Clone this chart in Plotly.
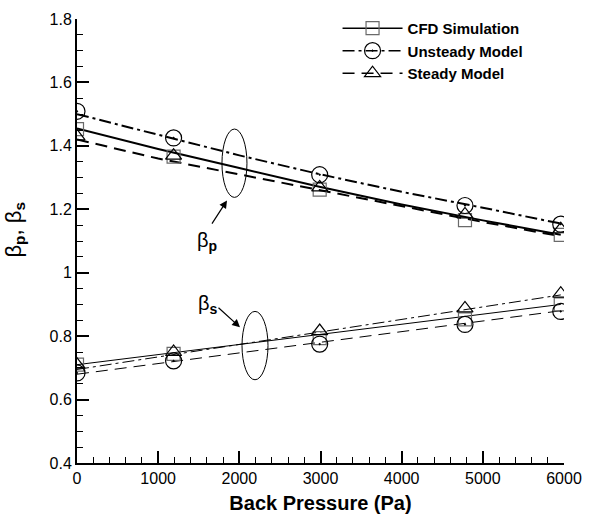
import plotly.graph_objects as go

# Marker data (Back pressure, Pa)
x_pts = [0, 1190, 2990, 4780, 5960]
# beta_p markers
bp_cfd = [1.453, 1.366, 1.262, 1.166, 1.119]
bp_unsteady = [1.509, 1.425, 1.309, 1.212, 1.153]
bp_steady = [1.43, 1.369, 1.269, 1.184, 1.137]
# beta_s markers
bs_cfd = [0.71, 0.744, 0.794, 0.853, 0.90]
bs_unsteady = [0.684, 0.722, 0.775, 0.837, 0.878]
bs_steady = [0.71, 0.75, 0.816, 0.8875, 0.934]

# Curves
x_line = [0, 1000, 2000, 3000, 4000, 5000, 5960]
bp_cfd_line = [1.455, 1.39, 1.33, 1.27, 1.215, 1.165, 1.12]
bp_unsteady_line = [1.50, 1.435, 1.37, 1.31, 1.255, 1.205, 1.155]
bp_steady_line = [1.42, 1.36, 1.31, 1.26, 1.21, 1.16, 1.115]
x_line_s = [0, 5960]
bs_cfd_line = [0.71, 0.90]
bs_unsteady_line = [0.695, 0.93]
bs_steady_line = [0.68, 0.88]

series = ["CFD Simulation", "Unsteady Model", "Steady Model"]
dashes = ["solid", "12px,4px,3px,4px", "12px,7px"]
symbols = ["square-open", "circle-open-dot", "triangle-up-open"]
mcolors = ["#6a6a6a", "black", "black"]
msizes = [13, 16, 14]

FONT = "Arial, Liberation Sans, sans-serif"
fig = go.Figure()

bp_lines = [bp_cfd_line, bp_unsteady_line, bp_steady_line]
bs_lines = [bs_cfd_line, bs_unsteady_line, bs_steady_line]
bp_marks = [bp_cfd, bp_unsteady, bp_steady]
bs_marks = [bs_cfd, bs_unsteady, bs_steady]

for i in range(3):
    fig.add_trace(go.Scatter(x=x_line, y=bp_lines[i], mode="lines",
                             line=dict(color="black", width=2, dash=dashes[i]),
                             showlegend=False, hoverinfo="skip"))
    fig.add_trace(go.Scatter(x=x_line_s, y=bs_lines[i], mode="lines",
                             line=dict(color="black", width=1, dash=dashes[i]),
                             showlegend=False, hoverinfo="skip"))


def mk(i):
    return dict(symbol=symbols[i], size=msizes[i], color=mcolors[i],
                line=dict(color=mcolors[i], width=1.2))


for i in range(3):
    fig.add_trace(go.Scatter(x=x_pts, y=bp_marks[i], mode="markers", marker=mk(i),
                             showlegend=False))
    fig.add_trace(go.Scatter(x=x_pts, y=bs_marks[i], mode="markers", marker=mk(i),
                             showlegend=False))

# legend entries
for i in range(3):
    fig.add_trace(go.Scatter(x=[None], y=[None], mode="lines+markers", name="<b>" + series[i] + "</b>",
                             line=dict(color="black", width=1.5, dash=dashes[i]),
                             marker=mk(i), showlegend=True))

# Ellipses
fig.add_shape(type="circle", xref="x", yref="y", x0=1786, x1=2094, y0=1.2375, y1=1.453,
              line=dict(color="black", width=1))
fig.add_shape(type="circle", xref="x", yref="y", x0=2033, x1=2353, y0=0.6625, y1=0.878,
              line=dict(color="black", width=1))

# Arrows
fig.add_annotation(x=1848, y=1.228, ax=1651, ay=1.15, xref="x", yref="y", axref="x", ayref="y",
                   text="", showarrow=True, arrowhead=2, arrowsize=1.3, arrowwidth=1.2, arrowcolor="black")
fig.add_annotation(x=2008, y=0.828, ax=1725, ay=0.894, xref="x", yref="y", axref="x", ayref="y",
                   text="", showarrow=True, arrowhead=2, arrowsize=1.3, arrowwidth=1.2, arrowcolor="black")
fig.add_annotation(x=1601, y=1.097, xref="x", yref="y", text="β<sub><b>p</b></sub>", showarrow=False,
                   font=dict(family=FONT, size=20, color="black"))
fig.add_annotation(x=1614, y=0.90, xref="x", yref="y", text="β<sub><b>s</b></sub>", showarrow=False,
                   font=dict(family=FONT, size=20, color="black"))

# y-axis title
fig.add_annotation(x=-0.128, y=0.525, xref="paper", yref="paper", xanchor="center", yanchor="middle",
                   text="β<sub><b>p</b></sub>, β<sub><b>s</b></sub>", textangle=-90, showarrow=False,
                   font=dict(family=FONT, size=22, color="black"))

fig.update_layout(
    width=589, height=518,
    margin=dict(l=77, r=25, t=15, b=55),
    plot_bgcolor="white", paper_bgcolor="white",
    font=dict(family=FONT, color="black"),
    legend=dict(x=0.535, y=1.016, xanchor="left", yanchor="top",
                bgcolor="rgba(0,0,0,0)", font=dict(family=FONT, size=15, color="black"),
                itemwidth=60, tracegroupgap=0),
    xaxis=dict(range=[0, 6000], tickvals=[0, 1000, 2000, 3000, 4000, 5000, 6000],
               ticks="inside", ticklen=12, tickwidth=2, tickcolor="black", automargin=False,
               minor=dict(dtick=200, ticks="inside", ticklen=6, tickwidth=1, tickcolor="black"),
               showline=True, linewidth=2, linecolor="black", showgrid=False, zeroline=False,
               tickfont=dict(size=16), title=dict(text="<b>Back Pressure (Pa)</b>", font=dict(size=20), standoff=10)),
    yaxis=dict(range=[0.4, 1.8], tickvals=[0.4, 0.6, 0.8, 1.0, 1.2, 1.4, 1.6, 1.8],
               ticktext=["0.4", "0.6", "0.8", "1", "1.2", "1.4", "1.6", "1.8"],
               ticks="inside", ticklen=12, tickwidth=2, tickcolor="black", automargin=False,
               minor=dict(dtick=0.05, ticks="inside", ticklen=6, tickwidth=1, tickcolor="black"),
               showline=True, linewidth=2, linecolor="black", showgrid=False, zeroline=False,
               tickfont=dict(size=16)),
)

fig.write_html("out.html")
